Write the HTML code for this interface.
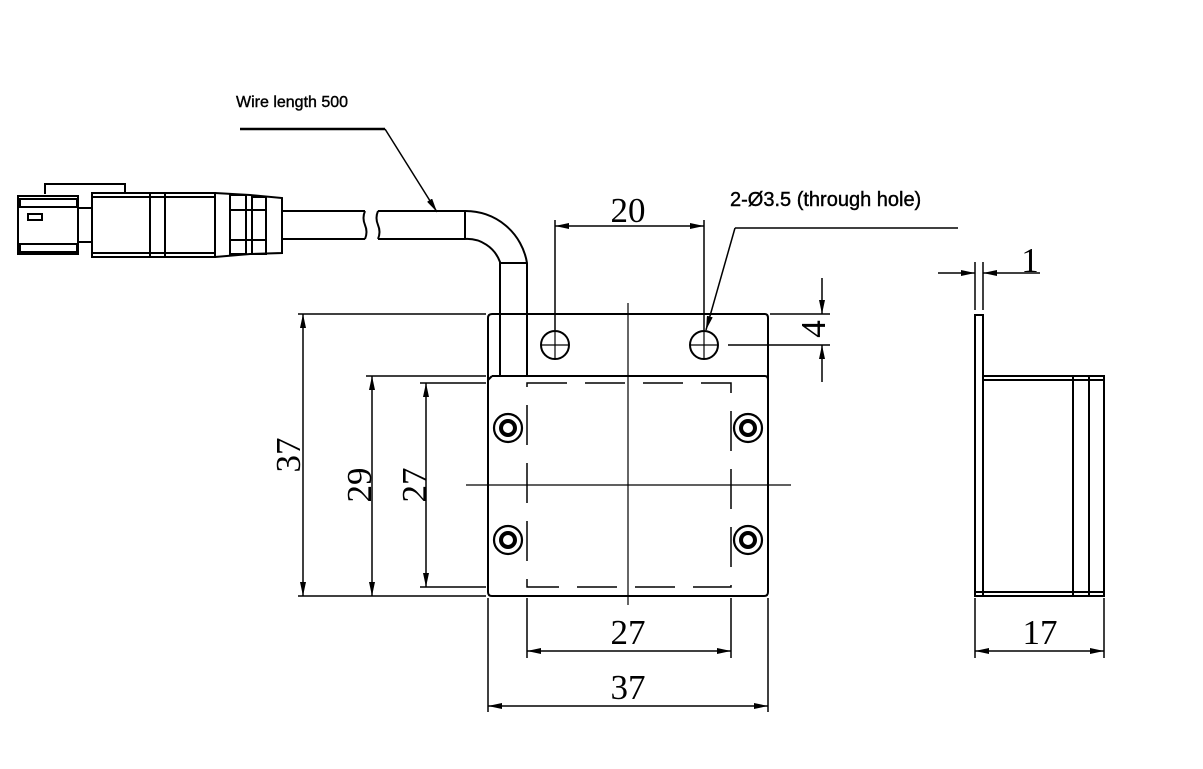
<!DOCTYPE html>
<html><head><style>body{margin:0;background:#fff}svg{display:block}</style></head><body>
<svg width="1203" height="769" viewBox="0 0 1203 769" xmlns="http://www.w3.org/2000/svg">
<defs>
<marker id="a" viewBox="0 0 14 6" refX="14" refY="3" markerWidth="14" markerHeight="6" orient="auto-start-reverse" markerUnits="userSpaceOnUse"><path d="M0,0 L14,3 L0,6z" fill="#000"/></marker>
</defs>
<g fill="none" stroke="#000" stroke-width="2">
<!-- connector -->
<rect x="18" y="196" width="60" height="58"/>
<rect x="20" y="199" width="57" height="8"/><rect x="20" y="244" width="57" height="8"/>
<path d="M28 214 h14 v6 h-14z"/>
<path d="M45 194 v-10 h80 v8"/>
<rect x="78" y="208" width="14" height="34"/>
<rect x="92" y="193" width="123" height="64"/>
<line x1="150" y1="193" x2="150" y2="257"/><line x1="165" y1="193" x2="165" y2="257"/>
<line x1="92" y1="197" x2="215" y2="197"/><line x1="92" y1="253" x2="215" y2="253"/>
<path d="M215 193 L250 195 L282 198 V253 L250 254 L215 257"/>
<rect x="230" y="195" width="16" height="59"/><rect x="252" y="197" width="14" height="57"/>
<path d="M246 210 h6 M246 240 h6 M230 210 h16 M230 240 h16 M252 210 h14 M252 240 h14"/>
<!-- cable -->
<path d="M282 211 H365 M282 239 H365 M378 211 H465 M378 239 H465"/>
<path d="M365 211 q-3 7 0 14 q3 7 0 14 M378 211 q-3 7 0 14 q3 7 0 14"/>
<path d="M465 211 A62 62 0 0 1 527 263 V376 M465 239 A35 35 0 0 1 500 262 V376"/>
<line x1="465" y1="211" x2="465" y2="239"/><line x1="500" y1="263" x2="527" y2="263"/>
<!-- plate -->
<path d="M492 314 H765 Q768 314 768 318 V592 Q768 596 764 596 H492 Q488 596 488 592 V318 Q488 314 492 314Z"/>
<path d="M492 376 H765 Q768 376 768 380" />
<line x1="488" y1="380" x2="492" y2="376"/>
<circle cx="555" cy="345" r="14"/><circle cx="704" cy="345" r="14"/>
<path d="M541 345 h28 M555 331 v28 M690 345 h28 M704 331 v28" stroke-width="1.2"/>
<rect x="527" y="383" width="204" height="204" stroke-dasharray="40 18" stroke-width="1.5"/>
<line x1="628" y1="303" x2="628" y2="605" stroke-width="1.2"/>
<line x1="466" y1="485" x2="791" y2="485" stroke-width="1.2"/>
<g stroke-width="2.2">
<circle cx="508" cy="428" r="14"/><circle cx="508" cy="428" r="7" stroke-width="4"/>
<circle cx="748" cy="428" r="14"/><circle cx="748" cy="428" r="7" stroke-width="4"/>
<circle cx="508" cy="540" r="14"/><circle cx="508" cy="540" r="7" stroke-width="4"/>
<circle cx="748" cy="540" r="14"/><circle cx="748" cy="540" r="7" stroke-width="4"/>
</g>
<!-- side view -->
<rect x="975" y="315" width="8" height="281"/>
<rect x="983" y="376" width="121" height="220"/>
<path d="M983 380 H1104 M975 592 H1104 M1073 376 V596 M1089 376 V596"/>
<!-- dims -->
<g stroke-width="1.5">
<path d="M555 220 V330 M704 220 V330"/>
<line x1="555" y1="226" x2="704" y2="226" marker-start="url(#a)" marker-end="url(#a)"/>
<path d="M735 228 H958"/>
<line x1="735" y1="228" x2="706" y2="330" marker-end="url(#a)"/>
<path d="M770 314 H830 M728 345 H830"/>
<line x1="822" y1="278" x2="822" y2="314" marker-end="url(#a)"/>
<line x1="822" y1="382" x2="822" y2="345" marker-end="url(#a)"/>
<path d="M298 314 H486 M298 596 H486 M366 376 H486 M420 383 H486 M366 596 H486 M420 587 H486"/>
<line x1="303" y1="314" x2="303" y2="596" marker-start="url(#a)" marker-end="url(#a)"/>
<line x1="372" y1="376" x2="372" y2="596" marker-start="url(#a)" marker-end="url(#a)"/>
<line x1="426" y1="383" x2="426" y2="587" marker-start="url(#a)" marker-end="url(#a)"/>
<path d="M527 598 V658 M731 598 V658 M488 598 V712 M768 598 V712"/>
<line x1="527" y1="651" x2="731" y2="651" marker-start="url(#a)" marker-end="url(#a)"/>
<line x1="488" y1="706" x2="768" y2="706" marker-start="url(#a)" marker-end="url(#a)"/>
<path d="M975 598 V658 M1104 598 V658 M975 262 V310 M983 262 V310"/>
<line x1="975" y1="651" x2="1104" y2="651" marker-start="url(#a)" marker-end="url(#a)"/>
<line x1="938" y1="273" x2="975" y2="273" marker-end="url(#a)"/>
<line x1="1040" y1="273" x2="983" y2="273" marker-end="url(#a)"/>
<line x1="385" y1="129" x2="437" y2="212" marker-end="url(#a)"/>
</g>
<line x1="240" y1="129" x2="385" y2="129" stroke-width="2.5"/>
</g>
<g font-family="Liberation Serif, serif" font-size="35" text-anchor="middle" fill="#000">
<text x="628" y="222">20</text>
<text x="628" y="644">27</text>
<text x="628" y="699">37</text>
<text x="1040" y="644">17</text>
<text x="1030" y="272">1</text>
<text transform="translate(825,329) rotate(-90)">4</text>
<text transform="translate(300,455) rotate(-90)">37</text>
<text transform="translate(371,485) rotate(-90)">29</text>
<text transform="translate(426,485) rotate(-90)">27</text>
</g>
<g font-family="Liberation Sans, sans-serif" fill="#000" stroke="#000" stroke-width="0.4">
<text x="236" y="107" font-size="16">Wire length 500</text>
<text x="730" y="206" font-size="20">2-Ø3.5 (through hole)</text>
</g>
</svg>
</body></html>
